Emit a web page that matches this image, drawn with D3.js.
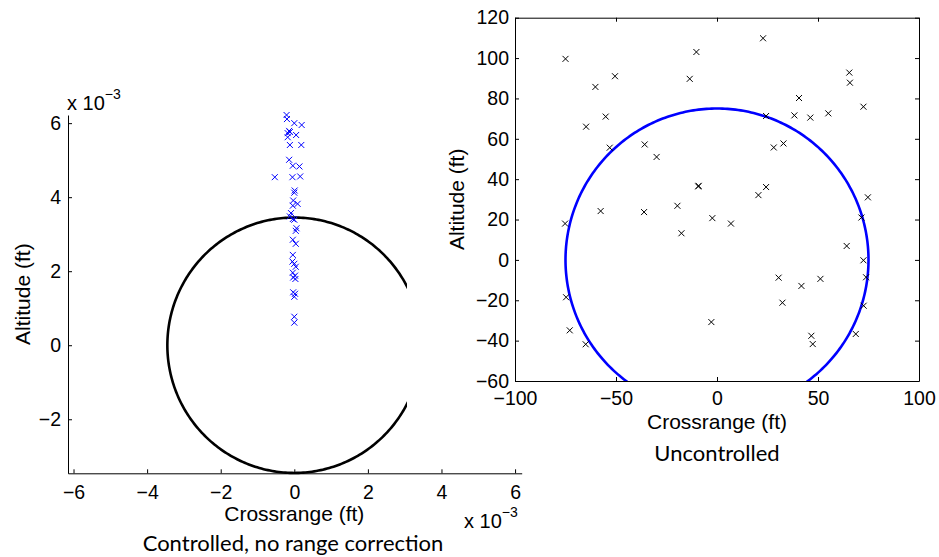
<!DOCTYPE html>
<html>
<head>
<meta charset="utf-8">
<script src="https://cdn.jsdelivr.net/npm/d3@7/dist/d3.min.js"></script>
<style>
  html, body { margin: 0; padding: 0; background: #fff; }
  svg { display: block; }
  .tick text { font-family: "Liberation Sans", Arial, sans-serif; font-size: 19.5px; fill: #000; }
  .axlabel { font-family: "Liberation Sans", Arial, sans-serif; font-size: 21px; fill: #000; }
  .caption { font-family: Lato, "Open Sans", sans-serif; font-size: 22px; fill: #000; }
  .expo { font-family: "Liberation Sans", Arial, sans-serif; font-size: 20px; fill: #000; }
</style>
</head>
<body>
<svg id="fig" width="939" height="557"></svg>
<script>
// ---- Controlled case (values in units of 1e-3 ft) ----
const controlledCross = [-0.21, -0.20, 0.00, 0.20, -0.14, -0.18, -0.12, 0.05, -0.18, -0.12,
  0.19, -0.14, -0.04, 0.14, -0.53, -0.05, 0.16, 0.01, 0.00, -0.03,
  0.09, -0.04, -0.09, -0.12, -0.04, 0.00, 0.06, 0.04, -0.04, 0.04,
  -0.04, -0.05, 0.00, 0.04, -0.04, 0.02, -0.03, 0.03, -0.03, 0.02,
  0.00, 0.00, 0.00];
const controlledAlt = [6.22, 6.11, 6.00, 5.95, 5.79, 5.73, 5.76, 5.68, 5.62, 5.41,
  5.41, 5.01, 4.85, 4.83, 4.54, 4.54, 4.56, 4.18, 4.12, 3.91,
  3.82, 3.77, 3.57, 3.48, 3.41, 3.39, 3.16, 3.09, 2.85, 2.74,
  2.44, 2.26, 2.20, 2.12, 1.96, 1.88, 1.83, 1.79, 1.43, 1.39,
  1.31, 0.77, 0.61];
const controlledRadius = 3.45;          // 1e-3 ft
const leftXTicks = [-6, -4, -2, 0, 2, 4, 6];
const leftYTicks = [-2, 0, 2, 4, 6];

// ---- Uncontrolled case (ft) ----
const uncontrolledCross = [-75.0, -60.2, -50.5, -55.1, -64.8, -53.1, -35.8, -29.9, -13.5, -10.2,
  22.8, 65.5, 65.8, 40.6, 38.3, 46.2, 55.1, 72.5, 24.3, 28.1,
  32.9, -9.1, 24.3, 20.5, 74.7, -57.6, -36.1, -19.6, -17.6, -75.2,
  -74.7, -72.9, -65.0, -2.3, 6.9, 71.5, 64.2, 72.5, 73.8, 30.5,
  41.8, 51.2, 32.4, 72.6, -2.8, 46.7, 47.4, 68.7, -9.3];
const uncontrolledAlt = [99.6, 85.7, 91.0, 71.0, 66.0, 55.6, 57.2, 51.0, 89.7, 103.0,
  109.8, 92.8, 87.8, 80.2, 71.6, 70.5, 72.6, 75.9, 71.3, 55.7,
  57.7, 36.7, 36.1, 32.1, 31.0, 24.2, 23.7, 26.8, 13.2, 18.0,
  -18.5, -34.9, -41.8, 20.7, 18.0, 21.0, 6.9, -0.2, -8.6, -8.8,
  -12.9, -9.4, -21.2, -22.7, -30.8, -37.6, -41.7, -36.7, 36.4];
const uncontrolledRadius = 75;          // ft
const rightXTicks = [-100, -50, 0, 50, 100];
const rightYTicks = [-60, -40, -20, 0, 20, 40, 60, 80, 100, 120];

const svg = d3.select("#fig");
const fmt = d => d < 0 ? "\u2212" + Math.abs(d) : String(d);
const angles = d3.range(0, 361, 1).map(a => a * Math.PI / 180);

// Draws an "x" marker
function crosses(g, xs, ys, sx, sy, color) {
  const s = 3;
  g.selectAll(null).data(xs.map((x, i) => [x, ys[i]])).join("path")
    .attr("d", d => {
      const px = sx(d[0]), py = sy(d[1]);
      return `M${px - s},${py - s}L${px + s},${py + s}M${px - s},${py + s}L${px + s},${py - s}`;
    })
    .attr("stroke", color).attr("stroke-width", 1).attr("fill", "none");
}

function styleAxis(g) {
  g.select(".domain").attr("stroke", "#000").attr("stroke-width", 1);
  g.selectAll(".tick line").attr("stroke", "#000").attr("stroke-width", 1);
}

// ================= Left panel: controlled =================
const lx = d3.scaleLinear().domain([-6.15, 6.18]).range([68, 521.7]);
const ly = d3.scaleLinear().domain([-3.46, 6.22]).range([473.3, 115]);
const left = svg.append("g");

left.append("path")
  .datum(angles)
  .attr("d", d3.line()
    .x(a => lx(controlledRadius * Math.cos(a)))
    .y(a => ly(controlledRadius * Math.sin(a))))
  .attr("fill", "none").attr("stroke", "#000").attr("stroke-width", 2.6);

crosses(left.append("g"), controlledCross, controlledAlt, lx, ly, "#0000ff");

const lxAxis = left.append("g").attr("transform", `translate(0,${ly.range()[0]})`)
  .call(d3.axisBottom(lx).tickValues(leftXTicks).tickSize(-4).tickPadding(12).tickFormat(fmt).tickSizeOuter(0));
styleAxis(lxAxis);
const lyAxis = left.append("g").attr("transform", `translate(${lx.range()[0]},0)`)
  .call(d3.axisLeft(ly).tickValues(leftYTicks).tickSize(-4).tickPadding(7).tickFormat(fmt).tickSizeOuter(0));
styleAxis(lyAxis);

left.append("text").attr("class", "axlabel").attr("text-anchor", "middle")
  .attr("x", lx(0)).attr("y", 521).text("Crossrange (ft)");
left.append("text").attr("class", "axlabel").attr("text-anchor", "middle")
  .attr("transform", `translate(30,${(ly.range()[0] + ly.range()[1]) / 2}) rotate(-90)`)
  .text("Altitude (ft)");

// exponent labels
const e1 = left.append("text").attr("class", "expo").attr("x", 67).attr("y", 110);
e1.append("tspan").text("x 10");
e1.append("tspan").attr("font-size", 14).attr("dy", -11).text("\u22123");
const e2 = left.append("text").attr("class", "expo").attr("x", 464).attr("y", 528);
e2.append("tspan").text("x 10");
e2.append("tspan").attr("font-size", 14).attr("dy", -11).text("\u22123");

left.append("text").attr("class", "caption").attr("text-anchor", "middle")
  .attr("x", 293).attr("y", 551).text("Controlled, no range correction");

// ================= Right panel: uncontrolled =================
const right = svg.append("g");
right.append("rect").attr("x", 407).attr("y", 0).attr("width", 532).attr("height", 468).attr("fill", "#fff");

const rx = d3.scaleLinear().domain([-100, 100]).range([515, 919]);
const ry = d3.scaleLinear().domain([-60, 120]).range([381, 17.7]);

svg.append("defs").append("clipPath").attr("id", "rclip").append("rect")
  .attr("x", rx.range()[0]).attr("y", ry.range()[1])
  .attr("width", rx.range()[1] - rx.range()[0]).attr("height", ry.range()[0] - ry.range()[1]);

right.append("path")
  .datum(angles)
  .attr("clip-path", "url(#rclip)")
  .attr("d", d3.line()
    .x(a => rx(uncontrolledRadius * Math.cos(a)))
    .y(a => ry(uncontrolledRadius * Math.sin(a))))
  .attr("fill", "none").attr("stroke", "#0000ff").attr("stroke-width", 2.6);

crosses(right.append("g"), uncontrolledCross, uncontrolledAlt, rx, ry, "#000");

const rb = right.append("g").attr("transform", `translate(0,${ry.range()[0]})`)
  .call(d3.axisBottom(rx).tickValues(rightXTicks).tickSize(-4).tickPadding(10).tickFormat(fmt).tickSizeOuter(0));
styleAxis(rb);
const rt = right.append("g").attr("transform", `translate(0,${ry.range()[1]})`)
  .call(d3.axisTop(rx).tickValues(rightXTicks).tickSize(-4).tickFormat("").tickSizeOuter(0));
styleAxis(rt);
const rl = right.append("g").attr("transform", `translate(${rx.range()[0]},0)`)
  .call(d3.axisLeft(ry).tickValues(rightYTicks).tickSize(-4).tickPadding(6).tickFormat(fmt).tickSizeOuter(0));
styleAxis(rl);
const rr = right.append("g").attr("transform", `translate(${rx.range()[1]},0)`)
  .call(d3.axisRight(ry).tickValues(rightYTicks).tickSize(-4).tickFormat("").tickSizeOuter(0));
styleAxis(rr);

right.append("text").attr("class", "axlabel").attr("text-anchor", "middle")
  .attr("x", rx(0)).attr("y", 429).text("Crossrange (ft)");
right.append("text").attr("class", "axlabel").attr("text-anchor", "middle")
  .attr("transform", `translate(464,${(ry.range()[0] + ry.range()[1]) / 2}) rotate(-90)`)
  .text("Altitude (ft)");
right.append("text").attr("class", "caption").attr("text-anchor", "middle")
  .attr("x", 717).attr("y", 461).text("Uncontrolled");
</script>
</body>
</html>
